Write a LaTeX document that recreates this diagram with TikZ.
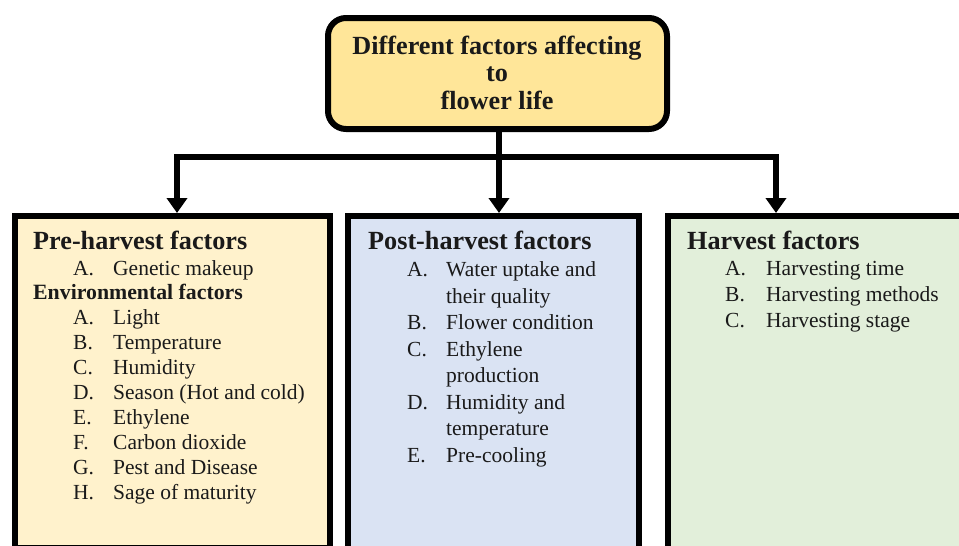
\documentclass[tikz,border=0pt]{standalone}
\usepackage{fontspec}
\setmainfont{Liberation Serif}
\usetikzlibrary{arrows.meta}
\definecolor{topfill}{HTML}{FFE699}
\definecolor{prefill}{HTML}{FFF2CC}
\definecolor{postfill}{HTML}{DAE3F3}
\definecolor{harvfill}{HTML}{E2EFDA}
\definecolor{txt}{HTML}{1A1A1A}
\tikzset{
  conn/.style={line width=6pt, -{Triangle[width=20pt,length=15pt]}},
  catbox/.style={draw=black, line width=6pt, rectangle, inner sep=0pt},
  topbox/.style={draw=black, line width=6pt, rounded corners=18pt, fill=topfill, inner sep=0pt,
    minimum width=339pt, minimum height=111pt},
  ttl/.style={anchor=base, inner sep=0pt, text=txt, font=\fontsize{26.2}{27.5}\selectfont\bfseries},
  hd/.style={anchor=base west, inner sep=0pt, text=txt, font=\fontsize{26.2}{30}\selectfont\bfseries},
  subhd/.style={anchor=base west, inner sep=0pt, text=txt, font=\fontsize{21.8}{25}\selectfont\bfseries},
  itm/.style={anchor=base west, inner sep=0pt, text=txt, font=\fontsize{21.5}{25}\selectfont},
}
\begin{document}
\begin{tikzpicture}[x=1pt, y=-1pt]
\useasboundingbox (0,0) rectangle (959,546);
\clip (0,0) rectangle (959,546);
% top box
\node[topbox] (top) at (497.5,73.5) {};
\node[ttl] (t1) at (497,54.3) {Different factors affecting};
\node[ttl] (t2) at (497,81.7) {to};
\node[ttl] (t3) at (497,109.3) {flower life};
% category boxes
\node[catbox, fill=prefill, minimum width=315pt, minimum height=332pt] (lbox) at (172.5,382) {};
\node[catbox, fill=postfill, minimum width=291pt, minimum height=384pt] (mbox) at (493.5,408) {};
\node[catbox, fill=harvfill, minimum width=332pt, minimum height=384pt] (rbox) at (834,408) {};
% connectors
\coordinate (jm) at (499,157);
\coordinate (jl) at (177,157);
\coordinate (jr) at (776,157);
\draw[conn] (top.south -| jm) -- (jm |- mbox.north);
\draw[conn] (jm) -- (jl) -- (jl |- lbox.north);
\draw[conn] (jm) -- (jr) -- (jr |- rbox.north);
% left box text
\node[hd] (lh) at (33,249) {Pre-harvest factors};
\node[itm] (l0a) at (73,275) {A.};
\node[itm] (l0b) at (113,275) {Genetic makeup};
\node[subhd] (lsub) at (33,299) {Environmental factors};
\node[itm] (l1a) at (73,324) {A.};
\node[itm] (l1b) at (113,324) {Light};
\node[itm] (l2a) at (73,349) {B.};
\node[itm] (l2b) at (113,349) {Temperature};
\node[itm] (l3a) at (73,374) {C.};
\node[itm] (l3b) at (113,374) {Humidity};
\node[itm] (l4a) at (73,399) {D.};
\node[itm] (l4b) at (113,399) {Season (Hot and cold)};
\node[itm] (l5a) at (73,424) {E.};
\node[itm] (l5b) at (113,424) {Ethylene};
\node[itm] (l6a) at (73,449) {F.};
\node[itm] (l6b) at (113,449) {Carbon dioxide};
\node[itm] (l7a) at (73,474) {G.};
\node[itm] (l7b) at (113,474) {Pest and Disease};
\node[itm] (l8a) at (73,499) {H.};
\node[itm] (l8b) at (113,499) {Sage of maturity};
% middle box text
\node[hd] (mh) at (368,249) {Post-harvest factors};
\node[itm] (m1a) at (407,276.5) {A.};
\node[itm] (m1b) at (446,276.5) {Water uptake and};
\node[itm] (m1c) at (446,303) {their quality};
\node[itm] (m2a) at (407,329.5) {B.};
\node[itm] (m2b) at (446,329.5) {Flower condition};
\node[itm] (m3a) at (407,356) {C.};
\node[itm] (m3b) at (446,356) {Ethylene};
\node[itm] (m3c) at (446,382.5) {production};
\node[itm] (m4a) at (407,409) {D.};
\node[itm] (m4b) at (446,409) {Humidity and};
\node[itm] (m4c) at (446,435.5) {temperature};
\node[itm] (m5a) at (407,462) {E.};
\node[itm] (m5b) at (446,462) {Pre-cooling};
% right box text
\node[hd] (rh) at (687,249) {Harvest factors};
\node[itm] (r1a) at (725,275.5) {A.};
\node[itm] (r1b) at (766,275.5) {Harvesting time};
\node[itm] (r2a) at (725,301.5) {B.};
\node[itm] (r2b) at (766,301.5) {Harvesting methods};
\node[itm] (r3a) at (725,327.5) {C.};
\node[itm] (r3b) at (766,327.5) {Harvesting stage};
\end{tikzpicture}
\end{document}
